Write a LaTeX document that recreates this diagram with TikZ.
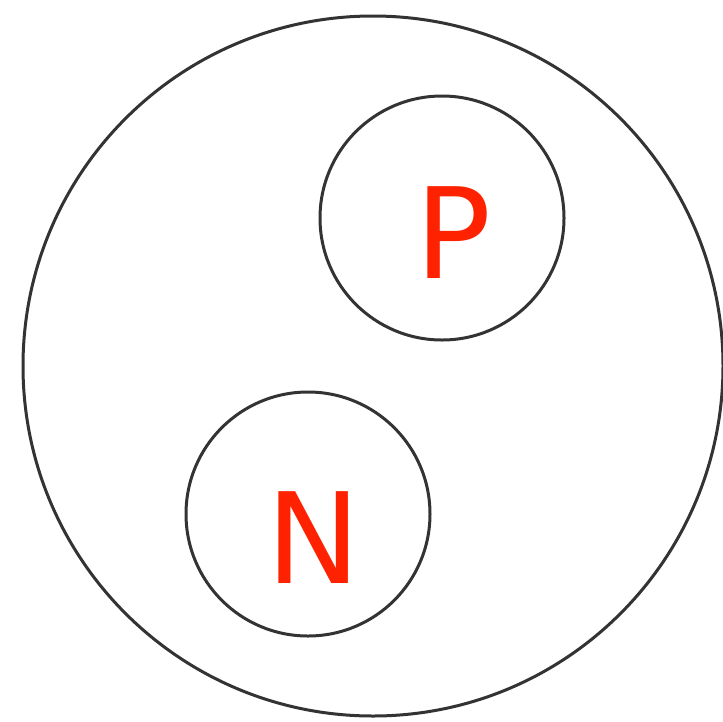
\documentclass[tikz,border=0pt]{standalone}
\usepackage{fontspec}
\newfontfamily\labfont{DejaVu Sans}
\definecolor{ringcol}{HTML}{333333}
\definecolor{labcol}{HTML}{FF2200}
\begin{document}
\begin{tikzpicture}[x=1pt,y=-1pt,
  ring/.style={circle,draw=ringcol,line width=3pt,inner sep=0pt,minimum size=#1},
  lab/.style={text=labcol,font=\labfont\fontsize{126}{126}\selectfont,inner sep=0pt,anchor=base}]
\useasboundingbox (0,0) rectangle (723,721);
\node[ring=700pt] (outer) at (373,366) {};
\node[ring=244pt] (pc) at (442,218) {};
\node[ring=244pt] (nc) at (308,514) {};
\node[lab] (p) at (453,278) {P};
\node[lab] (n) at (314,583) {N};
\end{tikzpicture}
\end{document}
